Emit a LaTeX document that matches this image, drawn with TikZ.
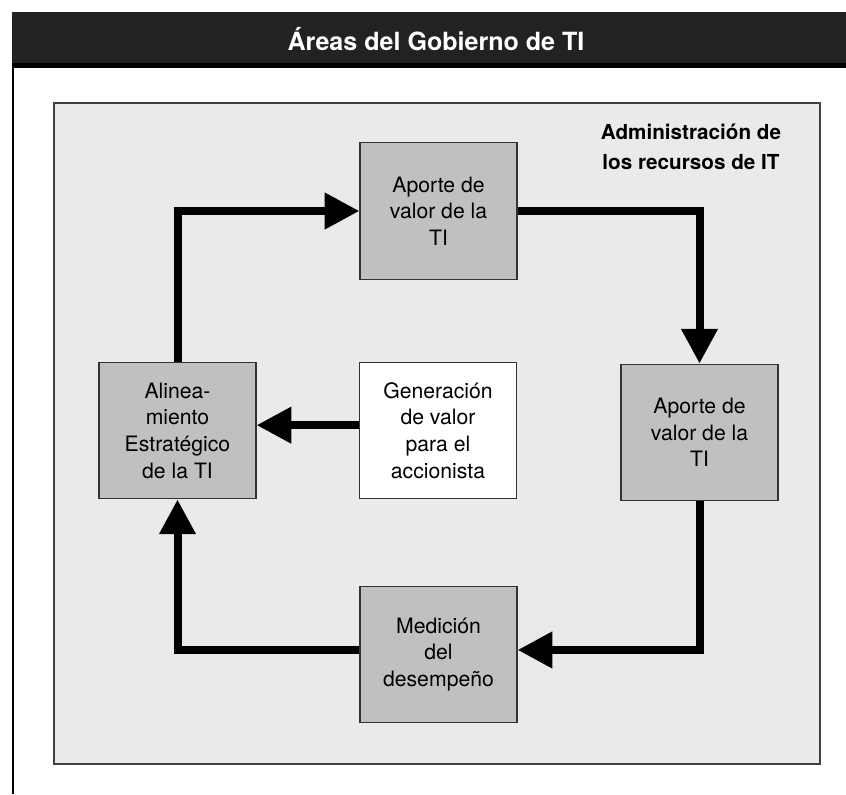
\documentclass[tikz,border=0pt]{standalone}
\usepackage{fontspec}
\setmainfont{TeX Gyre Heros}
\usetikzlibrary{arrows.meta, positioning}

\definecolor{barragris}{HTML}{222222}
\definecolor{fondogris}{HTML}{EAEAEA}
\definecolor{cajagris}{HTML}{C0C0C0}

\begin{document}
\begin{tikzpicture}[x=0.75pt, y=-0.75pt,
    caja/.style={draw=black!80, line width=0.9pt, fill=cajagris, minimum width=117.75pt, minimum height=102.5pt, inner sep=0pt, align=center, font=\fontsize{15.9pt}{20pt}\selectfont},
    flecha/.style={line width=6pt, line join=miter, -{Triangle[length=26pt, width=26pt]}}]
    \useasboundingbox (0,0) rectangle (846,794);
    % marco y barra de titulo
    \draw[line width=1.7pt] (13,12) -- (13,794);
    \fill[barragris] (12,12) rectangle (846,64);
    \draw[line width=3.5pt] (12,65.5) -- (846,65.5);
    \node[anchor=base, text=white, font=\bfseries\fontsize{18.8pt}{24pt}\selectfont] (titulo) at (436,50) {Áreas del Gobierno de TI};
    % panel de fondo
    \draw[draw=black!75, line width=1pt, fill=fondogris] (54,103) rectangle (820,764);
    \node[align=center, font=\bfseries\fontsize{15.5pt}{22.5pt}\selectfont] (admin) at (691,147) {Administración de\\los recursos de IT};
    % cajas
    \node[caja] (aporteA) at (438.5,211) {Aporte de\\valor de la\\TI};
    \node[caja] (alineamiento) at (177.5,430.5) {Alinea-\\miento\\Estratégico\\de la TI};
    \node[caja, fill=white] (generacion) at (438,430.5) {Generación\\de valor\\para el\\accionista};
    \node[caja] (aporteB) at (699.5,432.5) {Aporte de\\valor de la\\TI};
    \node[caja] (medicion) at (438.5,654.5) {Medición\\del\\desempeño};
    % flechas del ciclo
    \draw[flecha] (alineamiento.north) |- (aporteA.west);
    \draw[flecha] (aporteA.east) -| (aporteB.north);
    \draw[flecha] (aporteB.south) |- ([yshift=3.4pt]medicion.east);
    \draw[flecha] ([yshift=3.4pt]medicion.west) -| (alineamiento.south);
    \draw[flecha] ([yshift=4pt]generacion.west) -- ([yshift=4pt]alineamiento.east);
\end{tikzpicture}
\end{document}
